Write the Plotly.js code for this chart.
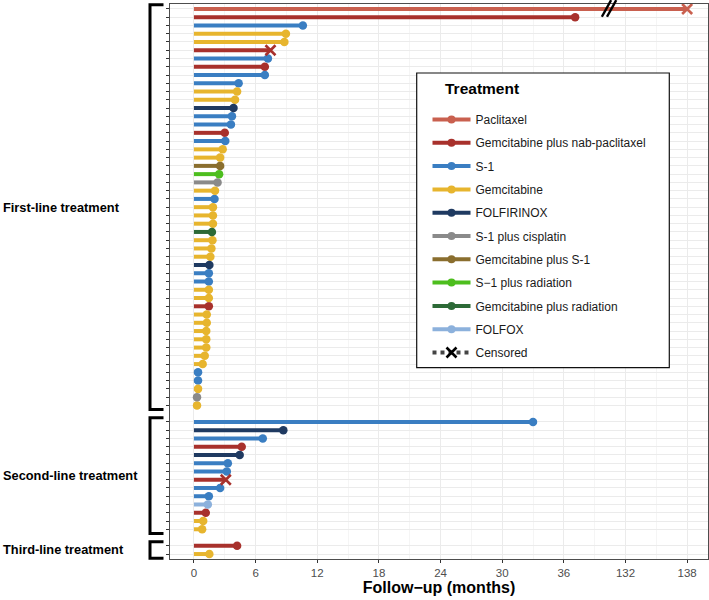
<!DOCTYPE html>
<html>
<head>
<meta charset="utf-8">
<script src="https://cdn.plot.ly/plotly-3.0.1.min.js"></script>
<style>html,body{margin:0;padding:0;background:#fff;}#chart{width:709px;height:600px;}</style>
</head>
<body>
<div id="chart"></div>
<script>
// ---------- DATA ----------
const treatments = ['Paclitaxel', 'Gemcitabine plus nab-paclitaxel', 'S-1', 'Gemcitabine', 'FOLFIRINOX',
  'S-1 plus cisplatin', 'Gemcitabine plus S-1', 'S\u22121 plus radiation', 'Gemcitabine plus radiation', 'FOLFOX'];
const treatmentColors = ['#C9604F', '#A8312C', '#3A7EC2', '#E7B52E', '#1F3A61',
  '#8A8A8A', '#8A6E2E', '#4DBE1E', '#2D6A37', '#8CB1DC'];

const groupLabels = ['First-line treatment', 'Second-line treatment', 'Third-line treatment'];

// First-line patients (top to bottom)
const firstTreatment = ['Paclitaxel', 'Gemcitabine plus nab-paclitaxel', 'S-1', 'Gemcitabine', 'Gemcitabine',
  'Gemcitabine plus nab-paclitaxel', 'S-1', 'Gemcitabine plus nab-paclitaxel', 'S-1', 'S-1',
  'Gemcitabine', 'Gemcitabine', 'FOLFIRINOX', 'S-1', 'S-1',
  'Gemcitabine plus nab-paclitaxel', 'S-1', 'Gemcitabine', 'Gemcitabine', 'Gemcitabine plus S-1',
  'S\u22121 plus radiation', 'S-1 plus cisplatin', 'Gemcitabine', 'S-1', 'Gemcitabine',
  'Gemcitabine', 'Gemcitabine', 'Gemcitabine plus radiation', 'Gemcitabine', 'Gemcitabine',
  'Gemcitabine', 'FOLFIRINOX', 'S-1', 'S-1', 'Gemcitabine',
  'Gemcitabine', 'Gemcitabine plus nab-paclitaxel', 'Gemcitabine', 'Gemcitabine', 'Gemcitabine',
  'Gemcitabine', 'Gemcitabine', 'Gemcitabine', 'Gemcitabine', 'S-1',
  'S-1', 'Gemcitabine', 'S-1 plus cisplatin', 'Gemcitabine'];
const firstMonths = [138, 37.1, 10.6, 8.95, 8.8,
  7.45, 7.2, 6.9, 6.9, 4.35,
  4.2, 4.0, 3.85, 3.7, 3.6,
  3.0, 3.05, 2.8, 2.55, 2.55,
  2.45, 2.3, 2.05, 2.0, 1.85,
  1.85, 1.85, 1.75, 1.8, 1.7,
  1.6, 1.5, 1.45, 1.45, 1.45,
  1.45, 1.45, 1.25, 1.25, 1.2,
  1.2, 1.2, 1.05, 0.85, 0.4,
  0.4, 0.4, 0.3, 0.3];
const firstCensored = [1, 0, 0, 0, 0, 1, 0, 0, 0, 0, 0, 0, 0, 0, 0, 0, 0, 0, 0, 0, 0, 0, 0, 0, 0,
  0, 0, 0, 0, 0, 0, 0, 0, 0, 0, 0, 0, 0, 0, 0, 0, 0, 0, 0, 0, 0, 0, 0, 0];

// Second-line patients
const secondTreatment = ['S-1', 'FOLFIRINOX', 'S-1', 'Gemcitabine plus nab-paclitaxel', 'FOLFIRINOX',
  'S-1', 'S-1', 'Gemcitabine plus nab-paclitaxel', 'S-1', 'S-1',
  'FOLFOX', 'Gemcitabine plus nab-paclitaxel', 'Gemcitabine', 'Gemcitabine'];
const secondMonths = [33.0, 8.7, 6.7, 4.65, 4.45, 3.3, 3.2, 3.1, 2.55, 1.45, 1.35, 1.15, 0.9, 0.8];
const secondCensored = [0, 0, 0, 0, 0, 0, 0, 1, 0, 0, 0, 0, 0, 0];

// Third-line patients
const thirdTreatment = ['Gemcitabine plus nab-paclitaxel', 'Gemcitabine'];
const thirdMonths = [4.2, 1.5];
const thirdCensored = [0, 0];

// x-axis (broken axis: 36 -> 132)
const tickLabels = [0, 6, 12, 18, 24, 30, 36, 132, 138];
const minorTicks = [3, 9, 15, 21, 27, 33, 39, 135];
const breakAfter = 40;   // values above this are shifted left
const breakShift = 90;   // months removed by the axis break

// ---------- BUILD ----------
const toAxis = v => (v > breakAfter ? v - breakShift : v);
const FONT = 'Liberation Sans, Arial, Helvetica, sans-serif';

const groups = [
  {t: firstTreatment, m: firstMonths, c: firstCensored},
  {t: secondTreatment, m: secondMonths, c: secondCensored},
  {t: thirdTreatment, m: thirdMonths, c: thirdCensored}
];
let row = 0;
const patients = [];
const groupSpans = [];
groups.forEach((g, gi) => {
  const start = row;
  g.t.forEach((tr, i) => { patients.push({tr: tr, m: g.m[i], c: g.c[i], y: row}); row++; });
  groupSpans.push([start, row - 1]);
  if (gi < groups.length - 1) row++;
});
const nRows = row;
const yMin = -0.6, yMax = nRows - 1 + 0.6;
const yPaper = r => (yMax - r) / (yMax - yMin);

const traces = [];
// lines
treatments.forEach((tr, ti) => {
  const xs = [], ys = [];
  patients.filter(p => p.tr === tr).forEach(p => { xs.push(0, toAxis(p.m), null); ys.push(p.y, p.y, null); });
  traces.push({type: 'scatter', mode: 'lines', x: xs, y: ys, showlegend: false, hoverinfo: 'skip',
    line: {color: treatmentColors[ti], width: 4}});
});
// event dots
treatments.forEach((tr, ti) => {
  const ps = patients.filter(p => p.tr === tr && !p.c);
  traces.push({type: 'scatter', mode: 'markers', x: ps.map(p => toAxis(p.m)), y: ps.map(p => p.y),
    showlegend: false, marker: {color: treatmentColors[ti], size: 8.5, symbol: 'circle'}});
});
// censored crosses
const cens = patients.filter(p => p.c);
const censColors = cens.map(p => treatmentColors[treatments.indexOf(p.tr)]);
traces.push({type: 'scatter', mode: 'markers', x: cens.map(p => toAxis(p.m)), y: cens.map(p => p.y),
  showlegend: false,
  marker: {symbol: 'x-thin-open', size: 10, color: censColors, line: {width: 2.6, color: censColors}}});
// legend entries
treatments.forEach((tr, ti) => {
  traces.push({type: 'scatter', mode: 'lines+markers', x: [null], y: [null], name: tr, legendgroup: 'g' + ti,
    line: {color: treatmentColors[ti], width: 4}, marker: {color: treatmentColors[ti], size: 8}});
});
traces.push({type: 'scatter', mode: 'lines+markers', x: [null], y: [null], name: 'Censored', legendgroup: 'gc',
  line: {color: '#444', width: 4, dash: 'dot'},
  marker: {symbol: 'x-thin-open', size: 10, color: '#000', line: {width: 2.6, color: '#000'}}});

// shapes: brackets, axis break, legend box
const PL = 170, PW = 538;
const px2paper = px => (px - PL) / PW;
const py2paper = py => 1 - (py - 4) / 555;
const shapes = [];
groupSpans.forEach(s => {
  const y0 = yPaper(s[0] - 0.5), y1 = yPaper(s[1] + 0.5);
  const xa = px2paper(150), xb = px2paper(163.5);
  shapes.push({type: 'path', xref: 'paper', yref: 'paper',
    path: `M${xb},${y0} L${xa},${y0} L${xa},${y1} L${xb},${y1}`,
    line: {color: '#000', width: 3}});
});
[[39.7, 40.6], [40.2, 41.1]].forEach(b => {
  shapes.push({type: 'line', xref: 'x', yref: 'paper', x0: b[0], x1: b[1], y0: 0.977, y1: 1.007,
    line: {color: '#000', width: 2.4}});
});
shapes.push({type: 'rect', xref: 'paper', yref: 'paper', layer: 'above',
  x0: px2paper(416.7), x1: px2paper(669.3), y0: py2paper(367.7), y1: py2paper(73),
  fillcolor: '#fff', line: {color: '#111', width: 1.2}});

const annotations = groupLabels.map((lab, i) => ({
  text: '<b>' + lab + '</b>', xref: 'paper', yref: 'paper', x: px2paper(0.5), xanchor: 'left',
  y: yPaper((groupSpans[i][0] + groupSpans[i][1]) / 2), yanchor: 'middle', showarrow: false,
  font: {family: FONT, size: 12.8, color: '#000'}
}));
annotations.push({text: '<b>Treatment</b>', xref: 'paper', yref: 'paper', x: px2paper(443), xanchor: 'left',
  y: py2paper(88), yanchor: 'middle', showarrow: false, font: {family: FONT, size: 15.5, color: '#000'}});

const rowTicks = patients.map(p => p.y);

const layout = {
  width: 709, height: 600,
  margin: {l: PL, r: 1, t: 4, b: 41},
  paper_bgcolor: '#fff', plot_bgcolor: '#fff',
  font: {family: FONT},
  showlegend: true,
  legend: {x: px2paper(427.5), y: py2paper(105), xanchor: 'left', yanchor: 'top',
    bgcolor: 'rgba(0,0,0,0)', borderwidth: 0,
    traceorder: 'grouped', tracegroupgap: 4.3, itemwidth: 38,
    font: {family: FONT, size: 12, color: '#1a1a1a'}},
  xaxis: {
    range: [-2.33, 50.03], tickvals: tickLabels.map(toAxis), ticktext: tickLabels.map(String),
    ticks: 'outside', ticklen: 3, tickcolor: '#333', tickwidth: 1,
    tickfont: {family: FONT, size: 11.5, color: '#4D4D4D'},
    showgrid: true, gridcolor: '#EBEBEB', gridwidth: 1,
    minor: {tickvals: minorTicks.map(toAxis), showgrid: true, gridcolor: '#F2F2F2', gridwidth: 0.8, ticks: ''},
    showline: true, mirror: true, linecolor: '#4D4D4D', linewidth: 1, zeroline: false,
    title: {text: '<b>Follow\u2212up (months)</b>', font: {family: FONT, size: 16, color: '#000'}, standoff: 4}
  },
  yaxis: {
    range: [yMax, yMin], tickvals: rowTicks, ticktext: rowTicks.map(() => ''),
    ticks: 'outside', ticklen: 3, tickcolor: '#333', tickwidth: 1,
    showgrid: true, gridcolor: '#EBEBEB', gridwidth: 1,
    showline: true, mirror: true, linecolor: '#4D4D4D', linewidth: 1, zeroline: false
  },
  shapes: shapes,
  annotations: annotations
};

Plotly.newPlot('chart', traces, layout, {displayModeBar: false, staticPlot: true});
</script>
</body>
</html>
